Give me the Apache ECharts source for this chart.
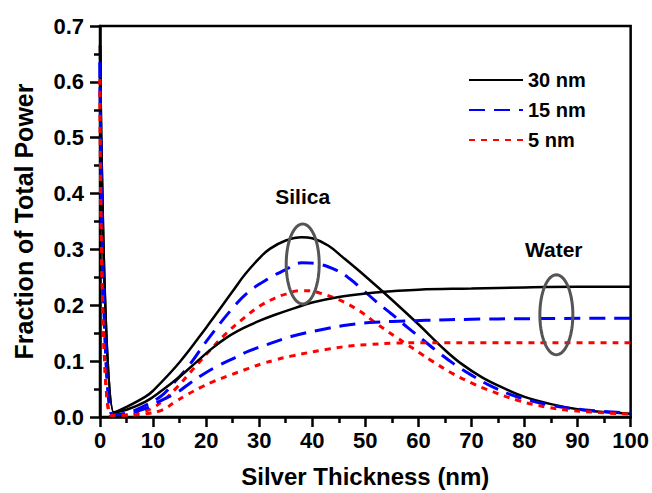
<!DOCTYPE html>
<html>
<head>
<meta charset="utf-8">
<script src="https://cdn.jsdelivr.net/npm/echarts@6/dist/echarts.min.js"></script>
<style>
html,body{margin:0;padding:0;background:#fff;}
#chart{width:652px;height:493px;}
</style>
</head>
<body>
<div id="chart"></div>
<script>
// ---- data ----
const xTicks = [0, 10, 20, 30, 40, 50, 60, 70, 80, 90, 100];
const yTicks = [0.0, 0.1, 0.2, 0.3, 0.4, 0.5, 0.6, 0.7];
const legendNames = ['30 nm', '15 nm', '5 nm'];

// Silica (peaked curves)
const silica30X = [0, 2.6, 5, 8.5, 10, 15, 20, 25, 27.3, 30, 32, 35, 38, 40, 43, 46, 50, 55, 60, 65, 68, 72, 76, 80, 85, 90, 95, 100];
const silica30Y = [0.665, 0.008, 0.018, 0.036, 0.047, 0.098, 0.16, 0.225, 0.255, 0.284, 0.301, 0.316, 0.322, 0.32, 0.307, 0.284, 0.252, 0.21, 0.166, 0.12, 0.096, 0.071, 0.052, 0.036, 0.023, 0.014, 0.009, 0.006];
const silica15X = [0, 2.3, 5, 8, 11.6, 14, 16.6, 20, 25, 28, 31.6, 35, 38, 41, 44.5, 47, 49.5, 52, 55, 58, 61, 64, 67, 70, 74, 79, 85, 91, 100];
const silica15Y = [0.635, 0.004, 0.007, 0.018, 0.038, 0.062, 0.09, 0.135, 0.195, 0.224, 0.247, 0.264, 0.276, 0.274, 0.263, 0.248, 0.228, 0.207, 0.184, 0.16, 0.137, 0.114, 0.093, 0.075, 0.054, 0.035, 0.021, 0.013, 0.007];
const silica5X = [0, 2.0, 5, 7.5, 9.7, 12, 14.5, 17.2, 20.3, 23.5, 26.7, 30, 33, 35, 37.6, 39.5, 41.4, 45, 48.9, 52, 55.8, 58, 60.2, 62.6, 66.4, 70, 72.7, 79, 84, 88.4, 94, 100];
const silica5Y = [0.605, 0.003, 0.004, 0.008, 0.015, 0.03, 0.053, 0.082, 0.115, 0.147, 0.174, 0.198, 0.213, 0.22, 0.226, 0.226, 0.222, 0.21, 0.19, 0.168, 0.143, 0.129, 0.115, 0.1, 0.078, 0.061, 0.05, 0.029, 0.018, 0.012, 0.008, 0.005];

// Water (plateau curves)
const water30X = [0, 2.6, 5, 8.5, 11.6, 15, 18, 21, 24, 27, 30, 33, 36.7, 40, 45, 50, 55, 60, 70, 80, 90, 100];
const water30Y = [0.665, 0.008, 0.013, 0.027, 0.047, 0.072, 0.097, 0.122, 0.143, 0.159, 0.172, 0.183, 0.195, 0.205, 0.215, 0.221, 0.225, 0.228, 0.23, 0.232, 0.233, 0.233];
const water15X = [0, 2.3, 5, 8.5, 11, 14.7, 17, 19.7, 22.5, 25.4, 28, 31.6, 36, 42.6, 47, 50.8, 55, 61.4, 70, 80, 100];
const water15Y = [0.635, 0.004, 0.006, 0.015, 0.027, 0.045, 0.061, 0.078, 0.093, 0.106, 0.118, 0.13, 0.144, 0.158, 0.165, 0.169, 0.171, 0.173, 0.175, 0.176, 0.177];
const water5X = [0, 2.0, 5, 8, 11.6, 14, 16.6, 19, 21, 24.8, 28, 30.4, 33, 36, 42.6, 47, 51, 55, 60, 100];
const water5Y = [0.605, 0.003, 0.003, 0.005, 0.012, 0.026, 0.041, 0.053, 0.062, 0.076, 0.087, 0.095, 0.102, 0.109, 0.121, 0.127, 0.13, 0.132, 0.133, 0.133];

// annotations (data coordinates)
const ellipseCenters = [[38.2, 0.274], [86.0, 0.183]];
const annotationTexts = ['Silica', 'Water'];
const annotationPos = [[38.2, 0.394], [85.5, 0.30]];

// ---- build chart ----
const zip = (xs, ys) => xs.map((x, i) => [x, ys[i]]);
const FONT = '"Liberation Sans", Arial, sans-serif';

const styles = {
  '30 nm': { color: '#000000', type: 'solid', width: 2.5 },
  '15 nm': { color: '#0000ff', type: [16, 9], width: 3 },
  '5 nm':  { color: '#ff0000', type: [6, 6], width: 3 }
};

function lineSeries(name, xs, ys) {
  const s = styles[name];
  return {
    type: 'line', name: name, data: zip(xs, ys),
    symbol: 'none', smooth: 0.4,
    lineStyle: { color: s.color, type: s.type, width: s.width, cap: 'butt' },
    itemStyle: { color: s.color },
    emphasis: { disabled: true }, silent: true
  };
}

const chart = echarts.init(document.getElementById('chart'), null, { renderer: 'svg' });
chart.setOption({
  animation: false,
  backgroundColor: '#ffffff',
  grid: { left: 100, right: 21, top: 26, bottom: 71, show: true, borderColor: '#000', borderWidth: 2.5, backgroundColor: 'transparent' },
  legend: {
    data: legendNames, orient: 'vertical', left: 463, top: 65,
    itemWidth: 54, itemHeight: 14, itemGap: 10,
    itemStyle: { opacity: 0, borderWidth: 0 },
    textStyle: { fontFamily: FONT, fontWeight: 'bold', fontSize: 20, color: '#000' },
    selectedMode: false
  },
  xAxis: {
    type: 'value', min: xTicks[0], max: xTicks[xTicks.length - 1], interval: xTicks[1] - xTicks[0],
    name: 'Silver Thickness (nm)', nameLocation: 'middle', nameGap: 47,
    nameTextStyle: { fontFamily: FONT, fontWeight: 'bold', fontSize: 24, color: '#000' },
    axisLine: { show: true, onZero: false, lineStyle: { color: '#000', width: 2.5 } },
    axisTick: { show: true, length: 10, lineStyle: { color: '#000', width: 2.5 } },
    minorTick: { show: true, splitNumber: 2, length: 6, lineStyle: { color: '#000', width: 2.5 } },
    axisLabel: { margin: 12, fontFamily: FONT, fontWeight: 'bold', fontSize: 22, color: '#000' },
    splitLine: { show: false }
  },
  yAxis: {
    type: 'value', min: yTicks[0], max: yTicks[yTicks.length - 1], interval: 0.1,
    name: 'Fraction of Total Power', nameLocation: 'middle', nameGap: 64,
    nameTextStyle: { fontFamily: FONT, fontWeight: 'bold', fontSize: 25, color: '#000' },
    axisLine: { show: true, onZero: false, lineStyle: { color: '#000', width: 2.5 } },
    axisTick: { show: true, length: 10, lineStyle: { color: '#000', width: 2.5 } },
    minorTick: { show: true, splitNumber: 2, length: 6, lineStyle: { color: '#000', width: 2.5 } },
    axisLabel: { margin: 16, fontFamily: FONT, fontWeight: 'bold', fontSize: 22, color: '#000', formatter: v => v.toFixed(1) },
    splitLine: { show: false }
  },
  series: [
    lineSeries('30 nm', silica30X, silica30Y),
    lineSeries('15 nm', silica15X, silica15Y),
    lineSeries('5 nm', silica5X, silica5Y),
    lineSeries('30 nm', water30X, water30Y),
    lineSeries('15 nm', water15X, water15Y),
    lineSeries('5 nm', water5X, water5Y),
    {
      type: 'custom', name: 'ellipses', data: ellipseCenters, silent: true, z: 5,
      renderItem: function (params, api) {
        const c = api.coord([api.value(0), api.value(1)]);
        const rx = 16.5, ry = 40, pts = [];
        for (let i = 0; i < 72; i++) {
          const t = i / 72 * Math.PI * 2;
          pts.push([c[0] + rx * Math.cos(t), c[1] + ry * Math.sin(t)]);
        }
        return { type: 'polygon', shape: { points: pts }, style: { fill: 'none', stroke: '#555555', lineWidth: 3 } };
      }
    },
    {
      type: 'custom', name: 'labels', data: annotationPos.map((p, i) => [p[0], p[1], i]), silent: true, z: 6,
      renderItem: function (params, api) {
        const c = api.coord([api.value(0), api.value(1)]);
        return { type: 'text', x: c[0], y: c[1],
          style: { text: annotationTexts[api.value(2)], fill: '#000', font: 'bold 21px ' + FONT, align: 'center', verticalAlign: 'middle' } };
      }
    }
  ]
});
</script>
</body>
</html>
